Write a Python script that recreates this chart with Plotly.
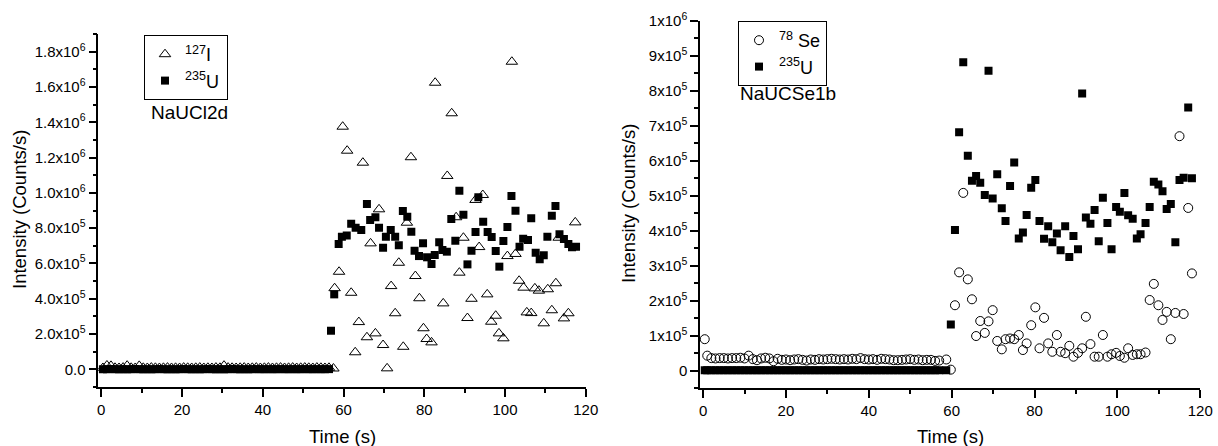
import plotly.graph_objects as go

# ---------------- left panel : NaUCl2d ----------------
t_base_l = [0.4, 1.4, 2.4, 3.4, 4.4, 5.4, 6.4, 7.4, 8.4, 9.4, 10.4, 11.4, 12.4, 13.4, 14.4,
            15.4, 16.4, 17.4, 18.4, 19.4, 20.4, 21.4, 22.4, 23.4, 24.4, 25.4, 26.4, 27.4, 28.4,
            29.4, 30.4, 31.4, 32.4, 33.4, 34.4, 35.4, 36.4, 37.4, 38.4, 39.4, 40.4, 41.4, 42.4,
            43.4, 44.4, 45.4, 46.4, 47.4, 48.4, 49.4, 50.4, 51.4, 52.4, 53.4, 54.4, 55.4, 56.4]
i127_base = [8000, 22000, 20000, 9000, 8000, 10000, 21000, 9000, 8000, 20000, 9000, 8000, 10000,
             9000, 8000, 9000, 10000, 8000, 9000, 8000, 10000, 9000, 8000, 9000, 10000, 8000, 9000,
             8000, 10000, 9000, 21000, 10000, 9000, 8000, 9000, 10000, 8000, 9000, 10000, 8000, 9000,
             10000, 8000, 9000, 10000, 8000, 9000, 10000, 8000, 9000, 10000, 9000, 8000, 10000, 9000,
             8000, 9000]
u235_base_l = [1000, 1000, 1500, 1000, 1000, 1200, 1000, 1000, 1500, 1000, 1000, 1200, 1000, 1000,
               1500, 1000, 1000, 1200, 1000, 1000, 1500, 1000, 1000, 1200, 1000, 1000, 1500, 1000,
               1000, 1200, 1000, 1000, 1500, 1000, 1000, 1200, 1000, 1000, 1500, 1000, 1000, 1200,
               1000, 1000, 1500, 1000, 1000, 1200, 1000, 1000, 1500, 1000, 1000, 1200, 1000, 1000,
               1500]

t_i127 = [57.5, 57.8, 58.9, 59.8, 60.9, 61.9, 62.9, 63.8, 64.8, 65.8, 66.7, 67.9, 68.8, 69.8, 70.8,
          71.8, 72.8, 73.7, 74.8, 75.7, 76.7, 77.8, 78.8, 79.8, 80.6, 81.8, 82.7, 84.7, 85.7, 86.8,
          87.9, 88.7, 89.7, 90.7, 91.7, 92.7, 93.6, 94.5, 95.6, 96.6, 97.7, 98.5, 99.6, 100.6,
          101.7, 102.6, 103.5, 104.6, 105.4, 106.5, 107.4, 108.4, 109.6, 110.6, 111.6, 112.6,
          113.3, 114.6, 115.7, 117.4]
v_i127 = [5000, 460000, 553000, 1375000, 1239000, 434000, 97000, 268000, 1171000, 182000, 714000,
          204000, 907000, 138000, 6000, 472000, 318000, 604000, 128000, 831000, 1202000, 529000,
          403000, 233000, 172000, 153000, 1624000, 374000, 1096000, 1451000, 862000, 548000,
          746000, 291000, 400000, 960000, 693000, 988000, 425000, 270000, 304000, 204000, 176000,
          642000, 1743000, 654000, 502000, 463000, 323000, 319000, 459000, 446000, 261000, 454000,
          335000, 488000, 746000, 289000, 318000, 833000]

t_u235_l = [56.9, 57.7, 58.8, 59.6, 60.8, 61.9, 63.0, 64.4, 65.8, 66.6, 67.9, 68.8, 69.8, 70.5,
            71.7, 72.8, 73.7, 74.7, 75.8, 76.8, 77.6, 78.7, 79.7, 80.7, 81.8, 82.6, 83.7, 84.5,
            85.6, 86.7, 87.7, 88.7, 89.7, 90.7, 91.7, 92.7, 93.4, 94.6, 95.7, 96.7, 97.7, 98.6,
            99.6, 100.6, 101.6, 102.6, 103.6, 104.5, 105.7, 106.5, 107.6, 108.6, 109.6, 110.5,
            111.6, 112.5, 113.5, 114.6, 115.7, 116.6, 117.6]
v_u235_l = [219000, 425000, 710000, 752000, 758000, 825000, 803000, 790000, 937000, 846000, 862000,
            803000, 689000, 752000, 790000, 752000, 703000, 897000, 865000, 780000, 672000, 642000,
            714000, 635000, 597000, 648000, 720000, 676000, 667000, 852000, 729000, 1012000, 876000,
            595000, 672000, 778000, 975000, 837000, 778000, 750000, 671000, 582000, 727000, 807000,
            982000, 899000, 695000, 740000, 733000, 856000, 661000, 624000, 646000, 752000, 871000,
            926000, 765000, 739000, 710000, 692000, 695000]

# ---------------- right panel : NaUCSe1b ----------------
t_base_r = [0.4, 1.0, 2.0, 3.0, 4.0, 5.0, 6.0, 7.0, 8.0, 9.0, 10.0, 11.0, 12.0, 13.0, 14.0, 15.0,
            16.0, 17.0, 18.0, 19.0, 20.0, 21.0, 22.0, 23.0, 24.0, 25.0, 26.0, 27.0, 28.0, 29.0,
            30.0, 31.0, 32.0, 33.0, 34.0, 35.0, 36.0, 37.0, 38.0, 39.0, 40.0, 41.0, 42.0, 43.0,
            44.0, 45.0, 46.0, 47.0, 48.0, 49.0, 50.0, 51.0, 52.0, 53.0, 54.0, 55.0, 56.0, 57.0,
            58.7]
se78_base = [90000, 43000, 36000, 35000, 36000, 36000, 35000, 36000, 36000, 37000, 35000, 43000,
             33000, 30000, 35000, 37000, 35000, 27000, 34000, 31000, 32000, 30000, 32000, 33000,
             31000, 29000, 32000, 31000, 33000, 32000, 33000, 34000, 33000, 32000, 33000, 32000,
             34000, 33000, 36000, 33000, 32000, 33000, 31000, 34000, 33000, 32000, 30000, 30000,
             31000, 32000, 33000, 31000, 32000, 30000, 31000, 31000, 28000, 29000, 32000]
u235_base_r = [1000, 1500, 1000, 1000, 1200, 1000, 1500, 1000, 1000, 1200, 1000, 1500, 1000, 1000,
               1200, 1000, 1500, 1000, 1000, 1200, 1000, 1500, 1000, 1000, 1200, 1000, 1500, 1000,
               1000, 1200, 1000, 1500, 1000, 1000, 1200, 1000, 1500, 1000, 1000, 1200, 1000, 1500,
               1000, 1000, 1200, 1000, 1500, 1000, 1000, 1200, 1000, 1500, 1000, 1000, 1200, 1000,
               1500, 1000, 1000]

t_post_r = [59.8, 60.8, 61.8, 62.8, 63.9, 64.9, 65.9, 66.9, 68.0, 68.9, 69.9, 71.0, 72.1, 73.0,
            74.1, 75.1, 76.2, 77.2, 78.1, 79.2, 80.2, 81.2, 82.3, 83.3, 84.3, 85.4, 86.3, 87.4,
            88.4, 89.4, 90.5, 91.5, 92.4, 93.5, 94.5, 95.5, 96.5, 97.6, 98.6, 99.7, 100.6, 101.7,
            102.6, 103.7, 104.7, 105.6, 106.8, 107.8, 108.8, 109.9, 110.9, 111.9, 112.9, 114.0,
            115.0, 116.0, 117.1, 118.0]
v_se78 = [3000, 187000, 281000, 508000, 261000, 204000, 99000, 142000, 108000, 141000, 173000,
          85000, 61000, 90000, 92000, 90000, 102000, 59000, 78000, 130000, 181000, 64000, 151000,
          78000, 54000, 102000, 54000, 50000, 71000, 40000, 51000, 64000, 154000, 76000, 40000,
          40000, 102000, 40000, 47000, 51000, 42000, 37000, 64000, 45000, 47000, 47000, 52000,
          202000, 248000, 187000, 145000, 168000, 90000, 165000, 670000, 162000, 465000, 278000]
v_u235_r = [132000, 402000, 681000, 881000, 614000, 543000, 556000, 537000, 502000, 857000, 492000,
            561000, 464000, 428000, 528000, 595000, 378000, 395000, 445000, 523000, 545000, 428000,
            377000, 413000, 367000, 392000, 344000, 413000, 325000, 385000, 347000, 792000, 438000,
            420000, 459000, 370000, 494000, 422000, 347000, 468000, 454000, 508000, 444000, 434000,
            378000, 390000, 422000, 468000, 540000, 532000, 513000, 462000, 476000, 367000, 545000,
            551000, 752000, 550000]

# ---------------- ticks ----------------
yticks_l = [0, 2e5, 4e5, 6e5, 8e5, 1e6, 1.2e6, 1.4e6, 1.6e6, 1.8e6]
ylabels_l = ["0.0", "2.0x10<sup>5</sup>", "4.0x10<sup>5</sup>", "6.0x10<sup>5</sup>",
             "8.0x10<sup>5</sup>", "1.0x10<sup>6</sup>", "1.2x10<sup>6</sup>",
             "1.4x10<sup>6</sup>", "1.6x10<sup>6</sup>", "1.8x10<sup>6</sup>"]
yticks_r = [0, 1e5, 2e5, 3e5, 4e5, 5e5, 6e5, 7e5, 8e5, 9e5, 1e6]
ylabels_r = ["0"] + ["%dx10<sup>5</sup>" % k for k in range(1, 10)] + ["1x10<sup>6</sup>"]

FONT = "Liberation Sans, Arial, sans-serif"
W, H = 1218, 446

fig = go.Figure()

open_tri = dict(symbol="triangle-up-open", size=10, color="black", line=dict(width=1, color="black"))
filled_sq = dict(symbol="square", size=8, color="black", line=dict(width=0))
open_circ = dict(symbol="circle-open", size=9, color="black", line=dict(width=1, color="black"))

fig.add_trace(go.Scatter(x=t_base_l + t_i127, y=i127_base + v_i127, mode="markers",
                         marker=open_tri, name="<sup>127</sup>I&nbsp;&nbsp;", xaxis="x", yaxis="y",
                         legend="legend"))
fig.add_trace(go.Scatter(x=t_base_l + t_u235_l, y=u235_base_l + v_u235_l, mode="markers",
                         marker=filled_sq, name="<sup>235</sup>U", xaxis="x", yaxis="y",
                         legend="legend"))
fig.add_trace(go.Scatter(x=t_base_r + t_post_r, y=se78_base + v_se78, mode="markers",
                         marker=open_circ, name="<sup>78</sup>&nbsp;Se", xaxis="x2", yaxis="y2",
                         legend="legend2"))
fig.add_trace(go.Scatter(x=t_base_r + t_post_r, y=u235_base_r + v_u235_r, mode="markers",
                         marker=filled_sq, name="<sup>235</sup>U", xaxis="x2", yaxis="y2",
                         legend="legend2"))

axis_common = dict(showline=True, linecolor="black", linewidth=1.5, ticks="outside", ticklen=8,
                   tickwidth=1.5, tickcolor="black", showgrid=False, zeroline=False,
                   tickfont=dict(family=FONT, size=15, color="black"), automargin=False)

fig.update_layout(
    width=W, height=H,
    margin=dict(l=0, r=0, t=0, b=0),
    paper_bgcolor="white", plot_bgcolor="white",
    font=dict(family=FONT, color="black"),
    xaxis=dict(domain=[0.0807, 0.4809], range=[-0.74, 120], anchor="y", tick0=0, dtick=20,
               minor=dict(ticks="outside", ticklen=4, tickwidth=1.5, tickcolor="black", dtick=10, tick0=0),
               **axis_common),
    yaxis=dict(domain=[0.1322, 0.9237], range=[-1e5, 1.9e6], anchor="x", tickmode="array",
               tickvals=yticks_l, ticktext=ylabels_l,
               minor=dict(ticks="outside", ticklen=4, tickwidth=1.5, tickcolor="black",
                          tickmode="linear", tick0=0, dtick=1e5),
               **axis_common),
    xaxis2=dict(domain=[0.5747, 0.9854], range=[-0.75, 120], anchor="y2", tick0=0, dtick=20,
                minor=dict(ticks="outside", ticklen=4, tickwidth=1.5, tickcolor="black", dtick=10, tick0=0),
                **axis_common),
    yaxis2=dict(domain=[0.1296, 0.9536], range=[-5e4, 1e6], anchor="x2", tickmode="array",
                tickvals=yticks_r, ticktext=ylabels_r,
                minor=dict(ticks="outside", ticklen=4, tickwidth=1.5, tickcolor="black",
                           tickmode="linear", tick0=0, dtick=5e4),
                **axis_common),
    legend=dict(x=144 / W, y=1 - 35 / H, xanchor="left", yanchor="top", bordercolor="black",
                borderwidth=1, bgcolor="white", font=dict(family=FONT, size=18, color="black"),
                tracegroupgap=0),
    legend2=dict(x=738 / W, y=1 - 21 / H, xanchor="left", yanchor="top", bordercolor="black",
                 borderwidth=1, bgcolor="white", font=dict(family=FONT, size=18, color="black"),
                 tracegroupgap=0),
    showlegend=True,
)

ann = [
    dict(text="NaUCl2d", x=189 / W, y=1 - 112 / H, size=19, angle=0),
    dict(text="NaUCSe1b", x=788 / W, y=1 - 94 / H, size=19, angle=0),
    dict(text="Intensity (Counts/s)", x=19 / W, y=1 - 210 / H, size=18.5, angle=-90),
    dict(text="Intensity (Counts/s)", x=628 / W, y=1 - 204 / H, size=18.5, angle=-90),
    dict(text="Time (s)", x=342 / W, y=1 - 436 / H, size=18.5, angle=0),
    dict(text="Time (s)", x=950 / W, y=1 - 436 / H, size=18.5, angle=0),
]
for a in ann:
    fig.add_annotation(text=a["text"], x=a["x"], y=a["y"], xref="paper", yref="paper",
                       xanchor="center", yanchor="middle", showarrow=False, textangle=a["angle"],
                       font=dict(family=FONT, size=a["size"], color="black"))

# the page body has a default 8px margin; drop it so the figure fills the window
fig.write_html("out.html", config={"displayModeBar": False},
               post_script="document.body.style.margin='0px';")
